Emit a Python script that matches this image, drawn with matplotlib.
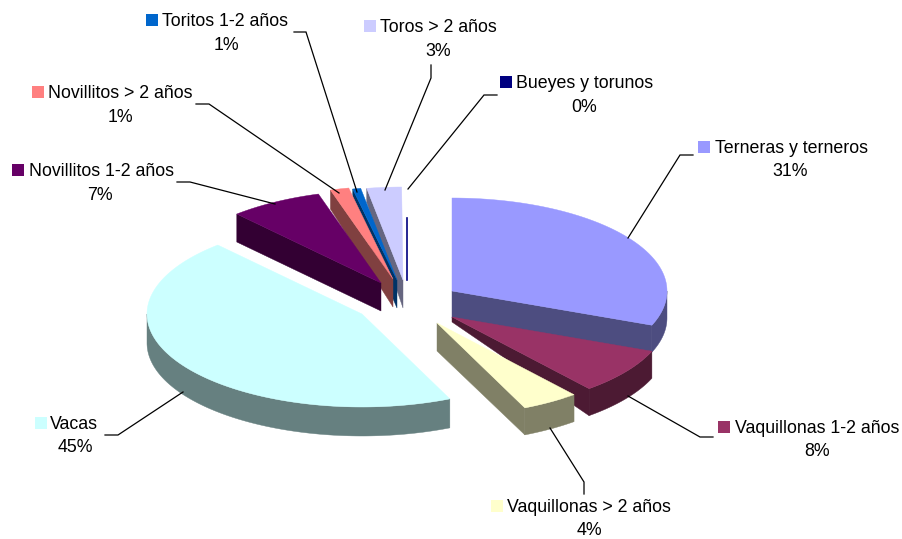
import numpy as np
import matplotlib
matplotlib.use('Agg')
import matplotlib.pyplot as plt
from matplotlib.patches import Polygon, Rectangle

plt.rcParams['font.family'] = ['Liberation Sans', 'DejaVu Sans']

# datos
categorias = ['Terneras y terneros', 'Vaquillonas 1-2 años', 'Vaquillonas > 2 años', 'Vacas',
              'Novillitos 1-2 años', 'Novillitos > 2 años', 'Toritos 1-2 años', 'Toros > 2 años',
              'Bueyes y torunos']
valores = [31.0, 8.0, 4.3, 45.0, 7.0, 1.4, 0.6, 2.6, 0.1]

# estilo
colores = ['#9999FF', '#993366', '#FFFFCC', '#CCFFFF', '#660066', '#FF8080', '#0066CC', '#CCCCFF', '#000080']
paredes = ['#4D4D80', '#4C1A33', '#808066', '#668080', '#330033', '#804040', '#003366', '#666680', '#000080']
vertices = [(452, 291), (452, 317), (437, 323), (362, 314), (381, 283), (393, 279), (397, 280), (403, 280), (407, 280)]
prof_centro = [27, 5, 28, 28, 28, 28, 28, 28, 0]
prof_borde = [27, 27, 27, 29, 28, 19, 17, 14, 0]
RX, RY = 215, 93

# posicion de cada etiqueta: cuadro x, texto x, porcentaje x, y
etiquetas = [(698, 715, 790, 147), (718, 735, 817, 427), (491, 507, 589, 505.5), (35, 50, 75, 423),
             (12, 29, 100, 170), (32, 48, 120, 92), (146, 162, 226, 20), (364, 380, 438, 26),
             (500, 516, 584, 82)]
guias = [[(693, 155), (680, 155), (628, 238)],
         [(713, 437), (700, 437), (628, 396)],
         [(584, 494), (584, 482), (550, 428)],
         [(105, 435), (118, 435), (183, 392)],
         [(177, 182), (190, 182), (275, 204)],
         [(196, 104), (209, 104), (339, 193)],
         [(294, 32), (306, 32), (357, 192)],
         [(431, 65), (431, 78), (385, 190)],
         [(497, 95), (484, 95), (408, 189)]]


def punto(v, ang, r=1.0):
    a = np.radians(ang)
    return v[0] + RX * r * np.sin(a), v[1] - RY * r * np.cos(a)


def arco(v, a0, a1):
    angs = np.linspace(a0, a1, max(int(abs(a1 - a0)) + 2, 2))
    return [punto(v, a) for a in angs]


def poly(ax, pts, color):
    ax.add_patch(Polygon(pts, closed=True, facecolor=color, edgecolor=color, linewidth=0.3))


fig = plt.figure(figsize=(9.03, 5.39), dpi=100)
ax = fig.add_axes([0, 0, 1, 1])
ax.set_xlim(0, 903)
ax.set_ylim(539, 0)
ax.axis('off')

limites = np.concatenate([[0], np.cumsum(valores)]) * 3.6

# primero las porciones del fondo y al final las del frente
for i in [8, 7, 6, 5, 4, 0, 1, 3, 2]:
    a0, a1 = limites[i], limites[i + 1]
    v = vertices[i]
    if i == 8:
        # Bueyes es casi cero, solo se ve una linea
        ax.plot([v[0], v[0]], [218, v[1]], color=colores[i], lw=1.2)
        continue
    dc, db = prof_centro[i], prof_borde[i]

    # cara del corte
    if 180 < a0 < 360:
        p = punto(v, a0)
        poly(ax, [v, p, (p[0], p[1] + db), (v[0], v[1] + dc)], paredes[i])
    if 0 < a1 < 180:
        p = punto(v, a1)
        poly(ax, [v, p, (p[0], p[1] + db), (v[0], v[1] + dc)], paredes[i])

    # pared exterior, solo la mitad de adelante
    b0, b1 = max(a0, 90), min(a1, 270)
    if b1 > b0:
        pts = arco(v, b0, b1)
        poly(ax, pts + [(x, y + db) for x, y in pts[::-1]], paredes[i])

    poly(ax, [v] + arco(v, a0, a1), colores[i])

for g in guias:
    xs, ys = zip(*g)
    ax.plot(xs, ys, color='black', lw=0.9, solid_joinstyle='miter')

for nombre, val, col, (xc, xt, xp, y) in zip(categorias, valores, colores, etiquetas):
    ax.add_patch(Rectangle((xc, y - 6), 12, 12, facecolor=col, edgecolor='none'))
    ax.text(xt, y + 1.5, nombre, fontsize=12.8, va='center', ha='left', color='black')
    ax.text(xp, y + 25, f'{val:.0f}%', fontsize=12.8, va='center', ha='center', color='black')

fig.savefig('out.png', dpi=100, facecolor='white')
